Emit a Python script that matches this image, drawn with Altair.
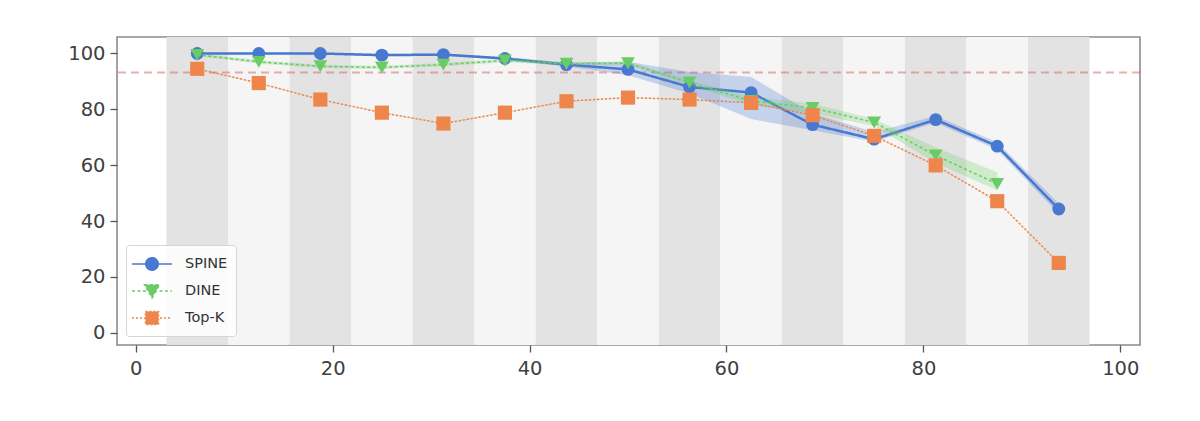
import altair as alt
import pandas as pd

# ---------------- data ----------------
x_vals = [6.25, 12.5, 18.75, 25, 31.25, 37.5, 43.75, 50, 56.25, 62.5, 68.75, 75, 81.25, 87.5, 93.75]

spine    = [100.0, 100.0, 100.0, 99.4, 99.6, 98.2, 96.0, 94.3, 88.0, 86.0, 74.5, 69.3, 76.3, 66.8, 44.3]
spine_lo = [99.6, 99.6, 99.6, 99.0, 99.2, 97.7, 95.3, 92.2, 85.7, 76.5, 72.5, 68.4, 75.2, 65.5, 42.6]
spine_hi = [100.3, 100.3, 100.3, 99.8, 100.0, 98.7, 96.8, 97.0, 93.4, 91.6, 78.5, 71.9, 77.6, 68.2, 46.3]

dine    = [99.5, 97.0, 95.4, 95.0, 96.0, 97.5, 96.3, 96.5, 89.6, 83.0, 80.5, 75.3, 63.5, 53.3, None]
dine_lo = [99.0, 96.4, 94.8, 94.4, 95.4, 96.9, 95.7, 95.9, 88.8, 81.5, 78.5, 74.0, 60.8, 51.0, None]
dine_hi = [100.0, 97.6, 96.0, 95.6, 96.6, 98.1, 96.9, 97.1, 90.4, 84.5, 82.0, 76.5, 66.3, 57.5, None]

topk    = [94.5, 89.4, 83.5, 78.8, 74.9, 78.8, 82.9, 84.2, 83.5, 82.3, 77.9, 70.5, 59.9, 47.1, 25.0]
topk_lo = [94.3, 89.2, 83.3, 78.6, 74.7, 78.6, 82.7, 84.0, 83.3, 82.1, 77.7, 70.3, 59.7, 46.9, 24.8]
topk_hi = [94.7, 89.6, 83.7, 79.0, 75.1, 79.0, 83.1, 84.4, 83.7, 82.5, 78.1, 70.7, 60.1, 47.3, 25.2]

series_names = ["SPINE", "DINE", "Top-K"]
threshold = [93.2]

x_ticks = [0, 20, 40, 60, 80, 100]
y_ticks = [0, 20, 40, 60, 80, 100]

# ---------------- styles ----------------
colors = ["#4878d0", "#6acc64", "#ee854a"]
marker_shapes = ["circle", "triangle-down", "square"]
marker_sizes = [165, 190, 200]
line_widths = [2.5, 1.5, 1.5]
line_dashes = [[1, 0], [3, 2.5], [2, 2]]
band_colors = ["#e3e3e3", "#f5f5f5"]
FONT = "DejaVu Sans"

# legend symbols: a short line with the marker in its middle
legend_paths = [
    "M-2,0H2M0.62,0A0.62,0.62,0,1,1,-0.62,0A0.62,0.62,0,1,1,0.62,0Z",
    "M-2,0H2M-0.75,-0.62L0.75,-0.62L0,0.68Z",
    "M-2,0H2M-0.65,-0.65H0.65V0.65H-0.65Z",
]

# ---------------- tables ----------------
rows = []
for name, ys, los, his in [
    ("SPINE", spine, spine_lo, spine_hi),
    ("DINE", dine, dine_lo, dine_hi),
    ("Top-K", topk, topk_lo, topk_hi),
]:
    for xv, yv, lo, hi in zip(x_vals, ys, los, his):
        if yv is None:
            continue
        rows.append({"series": name, "x": xv, "y": yv, "lo": lo, "hi": hi})
df = pd.DataFrame(rows)

half = (x_vals[1] - x_vals[0]) / 2
bands = pd.DataFrame({
    "start": [v - half for v in x_vals],
    "end": [v + half for v in x_vals],
    "shade": ["dark" if i % 2 == 0 else "light" for i in range(len(x_vals))],
})

xscale = alt.Scale(domain=[-1.9, 102.0], nice=False, zero=False)
yscale = alt.Scale(domain=[-4.4, 105.9], nice=False, zero=False)

xaxis = alt.Axis(values=x_ticks, title=None, grid=False, domain=False, labelPadding=7)
yaxis = alt.Axis(values=y_ticks, title=None, grid=False, domain=False, labelPadding=5)

X = alt.X("x:Q", scale=xscale, axis=xaxis)
Y = alt.Y("y:Q", scale=yscale, axis=yaxis)

band_layer = alt.Chart(bands).mark_rect().encode(
    x=alt.X("start:Q", scale=xscale, axis=xaxis),
    x2="end:Q",
    fill=alt.Fill("shade:N", scale=alt.Scale(domain=["dark", "light"], range=band_colors), legend=None),
)

rule_layer = alt.Chart(pd.DataFrame({"y": threshold})).mark_rule(
    color="#d65f5f", opacity=0.5, strokeDash=[8, 5], strokeWidth=2
).encode(y=alt.Y("y:Q", scale=yscale, axis=yaxis))

layers = [band_layer, rule_layer]
base = alt.Chart(df)
for i, name in enumerate(series_names):
    sub = base.transform_filter(alt.datum.series == name)
    area = sub.mark_area(color=colors[i], opacity=0.28).encode(
        x=X, y=alt.Y("lo:Q", scale=yscale, axis=yaxis), y2="hi:Q")
    line = sub.mark_line(color=colors[i], strokeWidth=line_widths[i],
                         strokeDash=line_dashes[i]).encode(x=X, y=Y)
    pts = sub.mark_point(shape=marker_shapes[i], filled=True, size=marker_sizes[i],
                         color=colors[i], opacity=1).encode(x=X, y=Y)
    layers += [area, line, pts]

legend_df = pd.DataFrame({"series": series_names})
leg = alt.Legend(title=None, orient="bottom-left", offset=9,
                 labelExpr="datum.label + '\u00a0\u00a0\u00a0\u00a0\u00a0'")
legend_layer = alt.Chart(legend_df).mark_point(filled=True, clip=True, opacity=1).encode(
    x=alt.value(-2000),
    y=alt.value(-2000),
    color=alt.Color("series:N", scale=alt.Scale(domain=series_names, range=colors), legend=leg),
    stroke=alt.Stroke("series:N", scale=alt.Scale(domain=series_names, range=colors), legend=leg),
    shape=alt.Shape("series:N", scale=alt.Scale(domain=series_names, range=legend_paths), legend=leg),
    strokeDash=alt.StrokeDash("series:N", scale=alt.Scale(domain=series_names, range=line_dashes), legend=leg),
)
layers.append(legend_layer)

chart = alt.layer(*layers).properties(
    width=1023,
    height=308,
    padding={"left": 109, "top": 29, "right": 50, "bottom": 60},
    autosize=alt.AutoSizeParams(type="none"),
).configure_view(
    stroke="#8c8c8c", strokeWidth=1.6
).configure_axis(
    labelFont=FONT, labelFontSize=19.5, labelColor="#404040",
    tickColor="#555555", tickWidth=1.3, tickSize=7,
).configure_legend(
    labelFont=FONT, labelFontSize=14.5, labelColor="#333333",
    symbolSize=400, symbolStrokeWidth=1.6, symbolOffset=7, labelOffset=22,
    rowPadding=6, padding=8,
    fillColor="rgba(255,255,255,0.85)", strokeColor="#d6d6d6", cornerRadius=3,
)

chart.save("out.html", embed_options={"renderer": "svg", "actions": False})
